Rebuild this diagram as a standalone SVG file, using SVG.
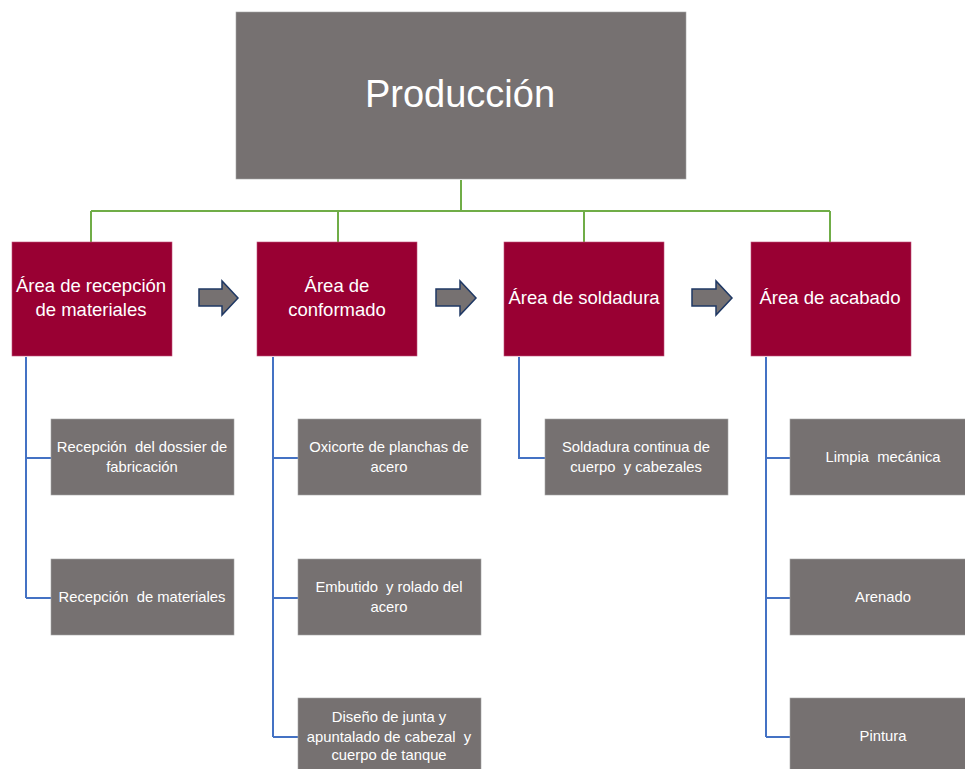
<svg xmlns="http://www.w3.org/2000/svg" width="965" height="769" viewBox="0 0 965 769">
<style>
.gray{fill:#767171;stroke:#a6a6a6;stroke-width:0.6}
.red{fill:#990033;stroke:#c0507a;stroke-width:0.6}
.g{stroke:#70ad47;stroke-width:2;fill:none}
.b{stroke:#4472c4;stroke-width:2;fill:none}
.arr{fill:#767171;stroke:#1f3864;stroke-width:1.5}
text{font-family:"Liberation Sans",Arial,sans-serif;fill:#ffffff;text-anchor:middle;white-space:pre}
.t1{font-size:38px}
.t2{font-size:18.5px}
.t3{font-size:14.8px}
</style>
<rect width="965" height="769" fill="#ffffff"/>
<g id="connectors">
<path class="g" d="M461 180V211M91 211H830M91 211V242M338 211V242M584 211V242M830 211V242"/>
<path class="b" d="M26 357V598M26 458H51M26 598H51"/>
<path class="b" d="M273 357V737M273 458H298M273 598H298M273 737H298"/>
<path class="b" d="M519 357V458H545"/>
<path class="b" d="M766 357V737M766 458H790M766 598H790M766 737H790"/>
<polygon class="arr" points="199,289 222,289 222,281 238,298 222,315 222,306 199,306"/>
<polygon class="arr" points="436,289 460,289 460,281 476,298 460,315 460,306 436,306"/>
<polygon class="arr" points="692,289 716,289 716,281 732,298 716,315 716,306 692,306"/>
</g>
<g id="produccion"><rect class="gray" x="236" y="12" width="450" height="167"/><text class="t1" x="460" y="107">Producción</text></g>
<g id="area1"><rect class="red" x="12" y="242" width="160" height="114"/><text class="t2" x="91" y="292">Área de recepción</text><text class="t2" x="91" y="316">de materiales</text></g>
<g id="area2"><rect class="red" x="257" y="242" width="160" height="114"/><text class="t2" x="337" y="292">Área de</text><text class="t2" x="337" y="316">conformado</text></g>
<g id="area3"><rect class="red" x="504" y="242" width="160" height="114"/><text class="t2" x="584" y="304">Área de soldadura</text></g>
<g id="area4"><rect class="red" x="751" y="242" width="160" height="114"/><text class="t2" x="830" y="304">Área de acabado</text></g>
<g id="c1a"><rect class="gray" x="51" y="419" width="183" height="76"/><text class="t3" x="142" y="452">Recepción  del dossier de</text><text class="t3" x="142" y="472">fabricación</text></g>
<g id="c1b"><rect class="gray" x="51" y="559" width="183" height="76"/><text class="t3" x="142" y="602">Recepción  de materiales</text></g>
<g id="c2a"><rect class="gray" x="298" y="419" width="183" height="76"/><text class="t3" x="389" y="452">Oxicorte de planchas de</text><text class="t3" x="389" y="472">acero</text></g>
<g id="c2b"><rect class="gray" x="298" y="559" width="183" height="76"/><text class="t3" x="389" y="592">Embutido  y rolado del</text><text class="t3" x="389" y="612">acero</text></g>
<g id="c2c"><rect class="gray" x="298" y="698" width="183" height="80"/><text class="t3" x="389" y="722">Diseño de junta y</text><text class="t3" x="389" y="742">apuntalado de cabezal  y</text><text class="t3" x="389" y="760">cuerpo de tanque</text></g>
<g id="c3a"><rect class="gray" x="545" y="419" width="183" height="76"/><text class="t3" x="636" y="452">Soldadura continua de</text><text class="t3" x="636" y="472">cuerpo  y cabezales</text></g>
<g id="c4a"><rect class="gray" x="790" y="419" width="186" height="76"/><text class="t3" x="883" y="462">Limpia  mecánica</text></g>
<g id="c4b"><rect class="gray" x="790" y="559" width="186" height="76"/><text class="t3" x="883" y="602">Arenado</text></g>
<g id="c4c"><rect class="gray" x="790" y="698" width="186" height="80"/><text class="t3" x="883" y="741">Pintura</text></g>
</svg>
